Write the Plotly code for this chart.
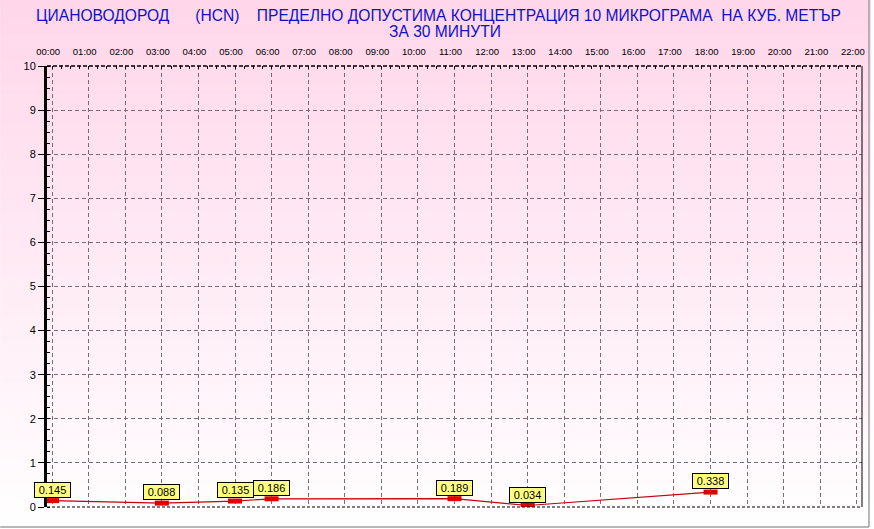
import plotly.graph_objects as go

# ---- data ----
times = ["00:00", "03:00", "05:00", "06:00", "11:00", "13:00", "18:00"]
values = [0.145, 0.088, 0.135, 0.186, 0.189, 0.034, 0.338]
hour_labels = ["00:00", "01:00", "02:00", "03:00", "04:00", "05:00", "06:00",
               "07:00", "08:00", "09:00", "10:00", "11:00", "12:00", "13:00",
               "14:00", "15:00", "16:00", "17:00", "18:00", "19:00", "20:00",
               "21:00", "22:00"]
y_ticks = [0, 1, 2, 3, 4, 5, 6, 7, 8, 9, 10]

title_line1 = ("ЦИАНОВОДОРОД\u00a0\u00a0\u00a0\u00a0\u00a0\u00a0(HCN)\u00a0\u00a0\u00a0\u00a0ПРЕДЕЛНО ДОПУСТИМА "
               "КОНЦЕНТРАЦИЯ 10 МИКРОГРАМА\u00a0\u00a0НА КУБ. МЕТЪР")
title_line2 = "ЗА 30 МИНУТИ"


def to_hours(t):
    h, m = t.split(":")
    return int(h) + int(m) / 60.0


xs = [to_hours(t) for t in times]
hour_vals = [to_hours(t) for t in hour_labels]

W, H = 874, 529
ml, mr, mt, mb = 47, 9, 66, 22
pw, ph = W - ml - mr, H - mt - mb


def px_x(px):
    return (px - ml) / pw


def px_y(py):
    return (H - mb - py) / ph


fig = go.Figure()

fig.add_trace(go.Scatter(
    x=xs, y=values, mode="lines",
    line=dict(color="#c00010", width=1.2),
    hoverinfo="skip", showlegend=False,
))
fig.add_trace(go.Scatter(
    x=xs, y=values, mode="markers",
    marker=dict(symbol="line-ew", size=10,
                line=dict(width=5, color="#e00000")),
    showlegend=False,
))

for x, v in zip(xs, values):
    fig.add_annotation(
        x=x, y=v, xref="x", yref="y",
        text=f"{v:.3f}", showarrow=False,
        xanchor="center", yanchor="bottom", yshift=3,
        width=33, height=12,
        font=dict(family="Liberation Sans, Arial", size=11, color="black"),
        bgcolor="#ffff80", bordercolor="black", borderwidth=1, borderpad=1,
    )

# title lines
title_font = dict(family="Liberation Sans, Arial", size=15.6, color="#1010c8")
fig.add_annotation(text=title_line1, xref="paper", yref="paper",
                   x=px_x(440), y=px_y(15), xanchor="center", yanchor="middle",
                   showarrow=False, font=title_font)
fig.add_annotation(text=title_line2, xref="paper", yref="paper",
                   x=px_x(446), y=px_y(32), xanchor="center", yanchor="middle",
                   showarrow=False, font=title_font)

# background gradient (styling only)
shapes = []
n = 90
top = (255, 214, 234)
bot = (255, 255, 255)
for i in range(n):
    py0 = i * H / n
    py1 = (i + 1) * H / n + 0.6
    f = (i + 0.5) / n
    c = tuple(int(round(top[k] + (bot[k] - top[k]) * f)) for k in range(3))
    shapes.append(dict(
        type="rect", xref="paper", yref="paper", layer="below",
        x0=-ml / pw, x1=(pw + mr) / pw,
        y0=(H - mb - py1) / ph, y1=(H - mb - py0) / ph,
        fillcolor=f"rgb{c}", line=dict(width=0),
    ))

# plot borders
shapes.append(dict(type="line", xref="x domain", yref="y domain",
                   x0=0, x1=1, y0=1, y1=1,
                   line=dict(color="black", width=1.5, dash="4px,2px")))
shapes.append(dict(type="line", xref="x domain", yref="y domain",
                   x0=0, x1=1, y0=0, y1=0,
                   line=dict(color="black", width=1.2, dash="3px,2px")))
shapes.append(dict(type="line", xref="x domain", yref="y domain",
                   x0=1, x1=1, y0=0, y1=1,
                   line=dict(color="black", width=1)))
# outer frame (bottom and right)
shapes.append(dict(type="line", xref="paper", yref="paper",
                   x0=-ml / pw, x1=(pw + mr - 2) / pw,
                   y0=-(mb - 2) / ph, y1=-(mb - 2) / ph,
                   line=dict(color="#a0a0a0", width=1.5)))
shapes.append(dict(type="line", xref="paper", yref="paper",
                   x0=(pw + mr - 2) / pw, x1=(pw + mr - 2) / pw,
                   y0=-(mb - 2) / ph, y1=(ph + mt) / ph,
                   line=dict(color="#a0a0a0", width=1.5)))

fig.update_layout(
    width=W, height=H,
    margin=dict(l=ml, r=mr, t=mt, b=mb, pad=0),
    paper_bgcolor="white",
    plot_bgcolor="rgba(0,0,0,0)",
    shapes=shapes,
    font=dict(family="Liberation Sans, Arial", size=9, color="black"),
    xaxis=dict(
        side="top", range=[-0.14, 22.14],
        tickmode="array", tickvals=hour_vals, ticktext=hour_labels,
        ticks="outside", ticklen=6, tickcolor="rgba(0,0,0,0)",
        ticklabelshift=-4,
        tickfont=dict(size=9.5),
        showgrid=True, gridcolor="#806878", griddash="4px,3px", gridwidth=1,
        showline=False, zeroline=False,
        minor=dict(tickmode="linear", tick0=0, dtick=0.25,
                   ticks="inside", ticklen=3, tickcolor="black",
                   showgrid=False),
        fixedrange=True,
    ),
    yaxis=dict(
        range=[0, 10],
        tickmode="array", tickvals=y_ticks,
        ticks="outside", ticklen=6, tickcolor="black",
        tickfont=dict(size=11),
        showgrid=True, gridcolor="#806878", griddash="4px,3px", gridwidth=1,
        showline=True, linecolor="black", linewidth=3,
        zeroline=False,
        minor=dict(tickmode="linear", tick0=0, dtick=0.25,
                   ticks="inside", ticklen=3, tickcolor="black",
                   showgrid=False),
        fixedrange=True,
    ),
)

fig.write_html(
    "out.html",
    config={"displayModeBar": False},
    post_script="document.body.style.margin='0';document.body.style.padding='0';",
)
